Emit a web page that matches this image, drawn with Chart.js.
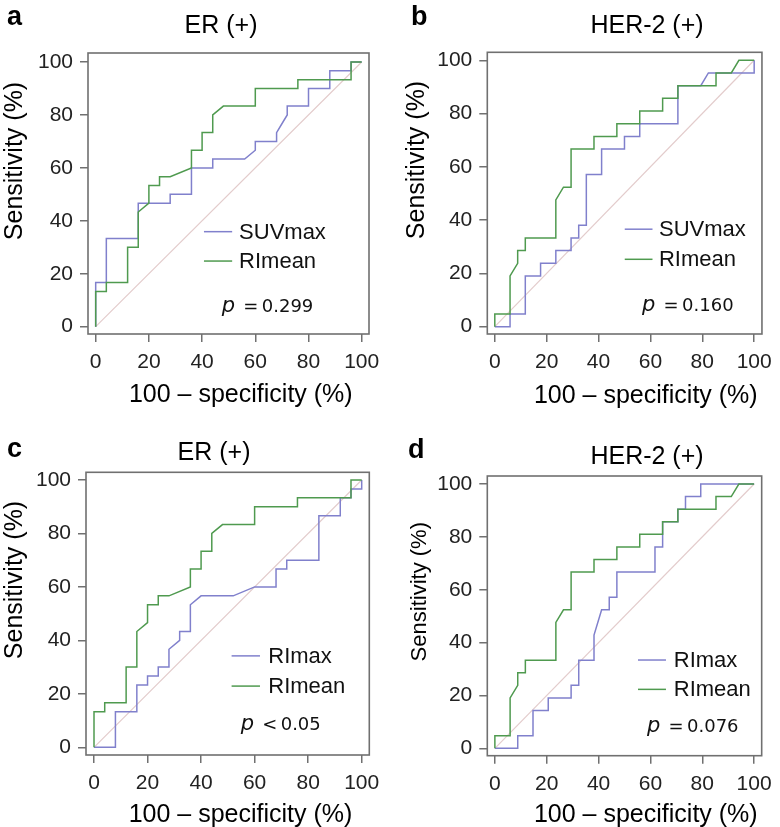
<!DOCTYPE html>
<html><head><meta charset="utf-8">
<script src="https://cdn.jsdelivr.net/npm/chart.js@4"></script>
<style>
html,body{margin:0;padding:0;background:#fff;width:780px;height:827px;overflow:hidden;}
canvas{position:absolute;}
</style></head><body>
<canvas id="ca" width="390" height="414" style="left:0;top:0"></canvas>
<canvas id="cb" width="390" height="414" style="left:390px;top:0"></canvas>
<canvas id="cc" width="390" height="413" style="left:0;top:414px"></canvas>
<canvas id="cd" width="390" height="413" style="left:390px;top:414px"></canvas>
<script>
// ---- tick values / labels ----
const tickValues = [0, 20, 40, 60, 80, 100];
const tickLabels = ['0', '20', '40', '60', '80', '100'];

// ---- reference diagonal ----
const diagX = [0, 100];
const diagY = [0, 100];

// ---- panel a: ER(+) SUVmax vs RImean ----
const aSuvX = [0,0,4,4,16,16,28,28,36,36,44,44,56,60,60,68,68,70,72,72,80,80,88,88,96,96,100];
const aSuvY = [0,16.67,16.67,33.33,33.33,46.67,46.67,50,50,60,60,63.33,63.33,66.67,70,70,73.33,76.67,80,83.33,83.33,90,90,96.67,96.67,100,100];
const aMeanX = [0,0,4,4,12,12,16,16,20,20,24,24,28,36,36,40,40,44,44,48,60,60,76,76,96,96,100];
const aMeanY = [0,13.33,13.33,16.67,16.67,30,30,43.33,46.67,53.33,53.33,56.67,56.67,60,66.67,66.67,73.33,73.33,80,83.33,83.33,90,90,93.33,93.33,100,100];

// ---- panel b: HER-2(+) SUVmax vs RImean ----
const bSuvX = [0,5.88,5.88,11.76,11.76,17.65,17.65,23.53,23.53,29.41,29.41,32.35,32.35,35.29,35.29,41.18,41.18,50,50,55.88,55.88,70.59,70.59,79.41,82.35,100,100];
const bSuvY = [0,0,4.76,4.76,19.05,19.05,23.81,23.81,28.57,28.57,33.33,33.33,38.1,38.1,57.14,57.14,66.67,66.67,71.43,71.43,76.19,76.19,90.48,90.48,95.24,95.24,100];
const bMeanX = [0,0,5.88,5.88,8.82,8.82,11.76,11.76,23.53,23.53,26.47,29.41,29.41,38.24,38.24,47.06,47.06,55.88,55.88,64.71,64.71,70.59,70.59,85.29,85.29,91.18,94.12,100];
const bMeanY = [0,4.76,4.76,19.05,23.81,28.57,28.57,33.33,33.33,47.62,52.38,52.38,66.67,66.67,71.43,71.43,76.19,76.19,80.95,80.95,85.71,85.71,90.48,90.48,95.24,95.24,100,100];

// ---- panel c: ER(+) RImax vs RImean ----
const cMaxX = [0,8,8,16,16,20,20,24,24,28,28,32,32,36,36,40,52,60,68,68,72,72,84,84,92,92,96,96,100,100];
const cMaxY = [0,0,13.33,13.33,23.33,23.33,26.67,26.67,30,30,36.67,40,43.33,43.33,53.33,56.67,56.67,60,60,66.67,66.67,70,70,86.67,86.67,93.33,93.33,96.67,96.67,100];
const cMeanX = [0,0,4,4,12,12,16,16,20,20,24,24,28,36,36,40,40,44,44,48,60,60,76,76,96,96,100];
const cMeanY = [0,13.33,13.33,16.67,16.67,30,30,43.33,46.67,53.33,53.33,56.67,56.67,60,66.67,66.67,73.33,73.33,80,83.33,83.33,90,90,93.33,93.33,100,100];

// ---- panel d: HER-2(+) RImax vs RImean ----
const dMaxX = [0,8.82,8.82,14.71,14.71,20.59,20.59,29.41,29.41,32.35,32.35,38.24,38.24,41.18,44.12,44.12,47.06,47.06,61.76,61.76,64.71,64.71,70.59,70.59,73.53,73.53,79.41,79.41,100];
const dMaxY = [0,0,4.76,4.76,14.29,14.29,19.05,19.05,23.81,23.81,33.33,33.33,42.86,52.38,52.38,57.14,57.14,66.67,66.67,76.19,76.19,85.71,85.71,90.48,90.48,95.24,95.24,100,100];
const dMeanX = [0,0,5.88,5.88,8.82,8.82,11.76,11.76,23.53,23.53,26.47,29.41,29.41,38.24,38.24,47.06,47.06,55.88,55.88,64.71,64.71,70.59,70.59,85.29,85.29,91.18,94.12,100];
const dMeanY = [0,4.76,4.76,19.05,23.81,28.57,28.57,33.33,33.33,47.62,52.38,52.38,66.67,66.67,71.43,71.43,76.19,76.19,80.95,80.95,85.71,85.71,90.48,90.48,95.24,95.24,100,100];

// ---- texts ----
const titles = ['ER (+)', 'HER-2 (+)', 'ER (+)', 'HER-2 (+)'];
const letters = ['a', 'b', 'c', 'd'];
const seriesNames = [['SUVmax','RImean'], ['SUVmax','RImean'], ['RImax','RImean'], ['RImax','RImean']];
const pSymbols = ['=', '=', '<', '='];
const pValues = ['0.299', '0.160', '0.05', '0.076'];
const yTitle = 'Sensitivity (%)';
const xTitle = '100 \u2013 specificity (%)';

// ---- styles ----
const BLUE = '#8080cc';
const GREEN = '#4f9a4f';
const DIAG = '#e3cccc';
const FRAME = '#707070';
const SANS = '"Liberation Sans", Arial, sans-serif';
const PFONT = '"DejaVu Sans", sans-serif';

// ---- layout per panel (page coordinates) ----
const panels = [
  { id:'ca', ox:0, oy:0, h:414, frame:[88,53,369,334], xr:[-2.89,102.74], yr:[-2.76,103.4],
    letter:[7,25], title:[221,32.7], yt:[22,161,25], xt:[240.8,401.7],
    leg:[40.7,51.3,53.9,35.9,24.8], p:[47.4,5.67],
    blueX:aSuvX, blueY:aSuvY, greenX:aMeanX, greenY:aMeanY },
  { id:'cb', ox:390, oy:0, h:414, frame:[487.3,52.3,769,334], xr:[-2.89,103.0], yr:[-2.74,103.0],
    letter:[411,25], title:[647,32.7], yt:[423.5,160,25], xt:[645.8,402.7],
    leg:[50.1,60.8,63.3,36.6,25.3], p:[56.8,6.0],
    blueX:bSuvX, blueY:bSuvY, greenX:bMeanX, greenY:bMeanY },
  { id:'cc', ox:0, oy:414, h:413, frame:[86,472.3,369.3,755], xr:[-2.99,102.84], yr:[-2.88,102.88],
    letter:[7,456.7], title:[214,460], yt:[21.5,580,25], xt:[240.5,821.7],
    leg:[51.4,62,65.1,34.2,22.9], p:[54.8,6.5],
    blueX:cMaxX, blueY:cMaxY, greenX:cMeanX, greenY:cMeanY },
  { id:'cd', ox:390, oy:414, h:413, frame:[487.3,476,766.7,755.7], xr:[-2.92,102.92], yr:[-2.8,103.03],
    letter:[408,458], title:[647,464], yt:[426,591.7,22], xt:[645.8,821.7],
    leg:[55.2,66,69,33.4,22.3], p:[58.7,6.3],
    blueX:dMaxX, blueY:dMaxY, greenX:dMeanX, greenY:dMeanY }
];

function pts(xs, ys) { return xs.map((x, i) => ({ x: x, y: ys[i] })); }

const annot = {
  id: 'annot',
  afterDraw(chart) {
    const P = chart.config.options.plugins.annot.panel;
    const k = P.k;
    const ctx = chart.ctx, ca = chart.chartArea, xs = chart.scales.x, ys = chart.scales.y;
    ctx.save();
    ctx.strokeStyle = FRAME; ctx.lineWidth = 1.6;
    ctx.strokeRect(ca.left, ca.top, ca.right - ca.left, ca.bottom - ca.top);
    ctx.fillStyle = '#000';
    ctx.textBaseline = 'alphabetic';
    ctx.font = 'bold 27px ' + SANS; ctx.textAlign = 'left';
    ctx.fillText(letters[k], P.letter[0] - P.ox, P.letter[1] - P.oy);
    ctx.font = '25px ' + SANS; ctx.textAlign = 'center';
    ctx.fillText(titles[k], P.title[0] - P.ox, P.title[1] - P.oy);
    ctx.fillText(xTitle, P.xt[0] - P.ox, P.xt[1] - P.oy);
    ctx.save();
    ctx.translate(P.yt[0] - P.ox, P.yt[1] - P.oy);
    ctx.rotate(-Math.PI / 2);
    ctx.font = P.yt[2] + 'px ' + SANS;
    ctx.fillText(yTitle, 0, 0);
    ctx.restore();
    // legend
    const cols = [BLUE, GREEN];
    const rows = [P.leg[3], P.leg[4]];
    ctx.font = '22px ' + SANS; ctx.textAlign = 'left'; ctx.textBaseline = 'middle';
    for (let i = 0; i < 2; i++) {
      const y = ys.getPixelForValue(rows[i]);
      ctx.strokeStyle = cols[i]; ctx.lineWidth = 1.5;
      ctx.beginPath();
      ctx.moveTo(xs.getPixelForValue(P.leg[0]), y);
      ctx.lineTo(xs.getPixelForValue(P.leg[1]), y);
      ctx.stroke();
      ctx.fillStyle = '#111';
      ctx.fillText(seriesNames[k][i], xs.getPixelForValue(P.leg[2]), y + 1);
    }
    // p value
    const px = xs.getPixelForValue(P.p[0]);
    const py = ys.getPixelForValue(P.p[1]);
    ctx.textBaseline = 'alphabetic'; ctx.fillStyle = '#111';
    ctx.font = 'oblique 21px ' + PFONT;
    ctx.fillText('p', px, py);
    ctx.font = '18px ' + PFONT;
    ctx.textAlign = 'center';
    ctx.fillText(pSymbols[k], px + 29, py);
    ctx.textAlign = 'left';
    ctx.fillText(pValues[k], px + 40, py);
    ctx.restore();
  }
};

panels.forEach((P, k) => {
  P.k = k;
  const L = P.frame[0] - P.ox, T = P.frame[1] - P.oy, R = P.frame[2] - P.ox, B = P.frame[3] - P.oy;
  const axisCommon = {
    type: 'linear',
    afterBuildTicks: s => { s.ticks = tickValues.map(v => ({ value: v })); },
    grid: { drawOnChartArea: false, drawTicks: true, tickLength: 8, color: FRAME, lineWidth: 1.5 },
    border: { display: false }
  };
  new Chart(document.getElementById(P.id), {
    type: 'line',
    data: {
      datasets: [
        { data: pts(P.greenX, P.greenY), borderColor: GREEN, borderWidth: 1.5, pointRadius: 0, order: 1 },
        { data: pts(P.blueX, P.blueY), borderColor: BLUE, borderWidth: 1.5, pointRadius: 0, order: 2 },
        { data: pts(diagX, diagY), borderColor: DIAG, borderWidth: 1.2, pointRadius: 0, order: 3 }
      ]
    },
    options: {
      responsive: false, animation: false, devicePixelRatio: 1,
      layout: { padding: { left: 0, top: T, right: 390 - R, bottom: 0 } },
      plugins: { legend: { display: false }, tooltip: { enabled: false }, annot: { panel: P } },
      scales: {
        x: Object.assign({}, axisCommon, {
          min: P.xr[0], max: P.xr[1],
          afterFit: s => { s.height = P.h - B; },
          ticks: { padding: 8, autoSkip: false, maxRotation: 0, color: '#222',
                   font: { family: SANS, size: 21 },
                   callback: (v) => tickLabels[tickValues.indexOf(v)] }
        }),
        y: Object.assign({}, axisCommon, {
          min: P.yr[0], max: P.yr[1],
          afterFit: s => { s.width = L; },
          ticks: { padding: 7, autoSkip: false, color: '#222',
                   font: { family: SANS, size: 21 },
                   callback: (v) => tickLabels[tickValues.indexOf(v)] }
        })
      }
    },
    plugins: [annot]
  });
});
</script>
</body></html>
